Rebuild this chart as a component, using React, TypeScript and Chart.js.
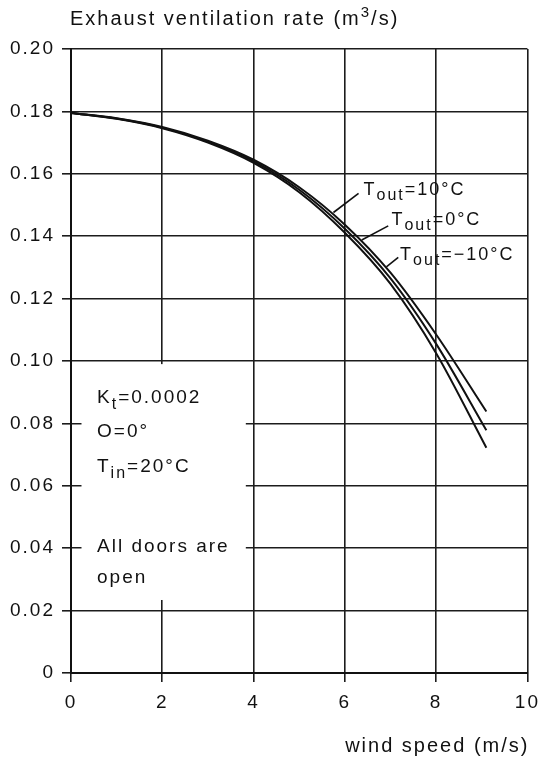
import React, { useEffect, useRef } from 'react';
import { Chart, registerables } from 'chart.js';

Chart.register(...registerables);

// ---------------- data ----------------
const windSpeed = [0, 1, 2, 3, 4, 5, 6, 7, 8, 9.1];
const rateToutPlus10 = [0.1795, 0.1778, 0.175, 0.1706, 0.1645, 0.1557, 0.1437, 0.1283, 0.1085, 0.0838];
const rateToutZero = [0.1795, 0.1777, 0.1748, 0.1703, 0.164, 0.1549, 0.1424, 0.1265, 0.1055, 0.0778];
const rateToutMinus10 = [0.1795, 0.1776, 0.1746, 0.17, 0.1635, 0.1541, 0.1411, 0.1247, 0.1025, 0.0722];
const xTickValues = [0, 2, 4, 6, 8, 10];
const yTickValues = [0, 0.02, 0.04, 0.06, 0.08, 0.1, 0.12, 0.14, 0.16, 0.18, 0.2];
const seriesTemps = ['=10°C', '=0°C', '=−10°C'];

// ---------------- annotation placement (data units) ----------------
const curveLabelAnchors = [
  { x: 6.41, y: 0.1532 },
  { x: 7.02, y: 0.1436 },
  { x: 7.21, y: 0.1325 },
];
const leaderLines = [
  { x1: 5.75, y1: 0.1476, x2: 6.3, y2: 0.1537 },
  { x1: 6.37, y1: 0.1388, x2: 6.95, y2: 0.1433 },
  { x1: 6.91, y1: 0.1302, x2: 7.17, y2: 0.1332 },
];
type Run = { t: string; sub?: boolean; sup?: boolean };
const noteLines: { runs: Run[]; x: number; y: number }[] = [
  { runs: [{ t: 'K' }, { t: 't', sub: true }, { t: '=0.0002' }], x: 0.57, y: 0.0865 },
  { runs: [{ t: 'O=0°' }], x: 0.57, y: 0.0756 },
  { runs: [{ t: 'T' }, { t: 'in', sub: true }, { t: '=20°C' }], x: 0.57, y: 0.0644 },
  { runs: [{ t: 'All doors are' }], x: 0.57, y: 0.0388 },
  { runs: [{ t: 'open' }], x: 0.57, y: 0.0288 },
];
const blankBox = { x0: 0.23, x1: 3.83, y0: 0.099, y1: 0.0234 };

const FONT = '"Liberation Sans", Arial, Helvetica, sans-serif';
const INK = '#111';

function drawRuns(ctx: CanvasRenderingContext2D, x: number, y: number, runs: Run[], size: number, subSize: number, align: 'left' | 'right' = 'left') {
  const widths = runs.map((r) => {
    ctx.font = `${r.sub || r.sup ? subSize : size}px ${FONT}`;
    return ctx.measureText(r.t).width;
  });
  let cx = align === 'left' ? x : x - widths.reduce((a, b) => a + b, 0);
  runs.forEach((r, i) => {
    ctx.font = `${r.sub || r.sup ? subSize : size}px ${FONT}`;
    const dy = r.sub ? size * 0.3 : r.sup ? -size * 0.38 : 0;
    ctx.fillText(r.t, cx, y + dy);
    cx += widths[i];
  });
}

const annotPlugin = {
  id: 'annot',
  beforeDraw(chart: any) {
    (chart.ctx as any).letterSpacing = '2px';
  },
  beforeDatasetsDraw(chart: any) {
    const { ctx, scales } = chart;
    const xs = scales.x;
    const ys = scales.y;
    const l = xs.getPixelForValue(blankBox.x0);
    const r = xs.getPixelForValue(blankBox.x1);
    const t = ys.getPixelForValue(blankBox.y0);
    const b = ys.getPixelForValue(blankBox.y1);
    ctx.save();
    ctx.fillStyle = '#fff';
    ctx.fillRect(l, t, r - l, b - t);
    ctx.restore();
  },
  afterDatasetsDraw(chart: any) {
    const { ctx, scales, chartArea } = chart;
    const xs = scales.x;
    const ys = scales.y;
    ctx.save();
    ctx.fillStyle = INK;
    ctx.strokeStyle = INK;
    ctx.textBaseline = 'alphabetic';
    ctx.textAlign = 'left';
    (ctx as any).letterSpacing = '2px';
    // leader lines
    ctx.lineWidth = 1.6;
    leaderLines.forEach((ln) => {
      ctx.beginPath();
      ctx.moveTo(xs.getPixelForValue(ln.x1), ys.getPixelForValue(ln.y1));
      ctx.lineTo(xs.getPixelForValue(ln.x2), ys.getPixelForValue(ln.y2));
      ctx.stroke();
    });
    // curve labels
    curveLabelAnchors.forEach((a, i) => {
      drawRuns(ctx, xs.getPixelForValue(a.x), ys.getPixelForValue(a.y), [{ t: 'T' }, { t: 'out', sub: true }, { t: seriesTemps[i] }], 18, 16);
    });
    // notes
    noteLines.forEach((n) => {
      drawRuns(ctx, xs.getPixelForValue(n.x), ys.getPixelForValue(n.y), n.runs, 19, 16);
    });
    // axis titles
    drawRuns(ctx, chartArea.left - 1, chartArea.top - 24, [{ t: 'Exhaust ventilation rate (m' }, { t: '3', sup: true }, { t: '/s)' }], 20, 15);
    drawRuns(ctx, chartArea.right + 2, chartArea.bottom + 79, [{ t: 'wind speed (m/s)' }], 20, 15, 'right');
    ctx.restore();
  },
};

export default function App() {
  const ref = useRef<HTMLCanvasElement>(null);
  useEffect(() => {
    const canvas = ref.current;
    if (!canvas) return;
    const mk = (vals: number[]) => windSpeed.map((x, i) => ({ x, y: vals[i] }));
    const lineStyle = {
      borderColor: INK,
      borderWidth: 2,
      pointRadius: 0,
      fill: false,
      cubicInterpolationMode: 'monotone' as const,
    };
    const gridStyle = {
      color: '#1c1c1c',
      lineWidth: 1.6,
      tickLength: 9,
      tickColor: '#1c1c1c',
      drawTicks: true,
    };
    const chart = new Chart(canvas, {
      type: 'line',
      data: {
        datasets: [
          { label: 'Tout=10°C', data: mk(rateToutPlus10), ...lineStyle },
          { label: 'Tout=0°C', data: mk(rateToutZero), ...lineStyle },
          { label: 'Tout=−10°C', data: mk(rateToutMinus10), ...lineStyle },
        ],
      },
      options: {
        animation: false,
        responsive: false,
        devicePixelRatio: 1,
        layout: { padding: { top: 49, right: 17, left: 0, bottom: 0 } },
        plugins: { legend: { display: false }, tooltip: { enabled: false }, title: { display: false } },
        scales: {
          x: {
            type: 'linear',
            min: 0,
            max: 10,
            afterBuildTicks: (s: any) => {
              s.ticks = xTickValues.map((v) => ({ value: v }));
            },
            afterFit: (s: any) => {
              s.height = 92;
            },
            grid: gridStyle,
            border: { display: true, color: INK, width: 2 },
            ticks: {
              color: INK,
              padding: 9,
              maxRotation: 0,
              font: { family: FONT, size: 19 },
              callback: (v: any) => String(v),
            },
          },
          y: {
            type: 'linear',
            min: 0,
            max: 0.2,
            afterBuildTicks: (s: any) => {
              s.ticks = yTickValues.map((v) => ({ value: v }));
            },
            afterFit: (s: any) => {
              s.width = 71;
            },
            grid: gridStyle,
            border: { display: true, color: INK, width: 2 },
            ticks: {
              color: INK,
              padding: 7,
              font: { family: FONT, size: 19 },
              callback: (v: any) => (Number(v) === 0 ? '0' : Number(v).toFixed(2)),
            },
          },
        },
      },
      plugins: [annotPlugin],
    });
    return () => chart.destroy();
  }, []);
  return (
    <div style={{ position: 'fixed', left: 0, top: 0, width: 547, height: 765, background: '#fff' }}>
      <canvas ref={ref} width={547} height={765} style={{ display: 'block', width: 547, height: 765 }} />
    </div>
  );
}
